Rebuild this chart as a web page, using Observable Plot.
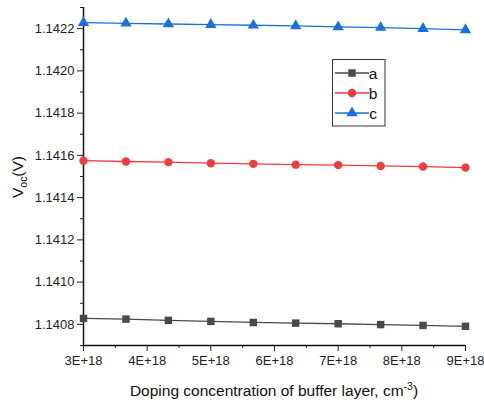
<!DOCTYPE html>
<html><head><meta charset="utf-8">
<script src="https://cdn.jsdelivr.net/npm/d3@7"></script>
<script src="https://cdn.jsdelivr.net/npm/@observablehq/plot@0.6"></script>
<style>body{margin:0;background:#fff;font-family:"Liberation Sans",Arial,sans-serif}#c{position:relative;width:484px;height:402px}</style>
</head><body><div id="c"></div>
<script>
const doping = [3.0e18, 3.667e18, 4.333e18, 5.0e18, 5.667e18, 6.333e18, 7.0e18, 7.667e18, 8.333e18, 9.0e18];
const seriesA = [1.140828, 1.140825, 1.140819, 1.140814, 1.140809, 1.140806, 1.140803, 1.140799, 1.140795, 1.140791];
const seriesB = [1.141575, 1.141571, 1.141568, 1.141563, 1.141560, 1.141556, 1.141554, 1.141550, 1.141547, 1.141542];
const seriesC = [1.142228, 1.142225, 1.142222, 1.142219, 1.142216, 1.142213, 1.142208, 1.142205, 1.142200, 1.142194];
const seriesNames = ["a", "b", "c"];
const seriesColors = ["#4a4a4a", "#f03c3c", "#1c6fe0"];
const seriesSymbols = ["square", "circle", "triangle"];
const xTicks = [3e18, 4e18, 5e18, 6e18, 7e18, 8e18, 9e18];
const xMinor = [3.5e18, 4.5e18, 5.5e18, 6.5e18, 7.5e18, 8.5e18];
const yTicks = [1.1408, 1.1410, 1.1412, 1.1414, 1.1416, 1.1418, 1.1420, 1.1422];
const yMinor = [1.1407, 1.1409, 1.1411, 1.1413, 1.1415, 1.1417, 1.1419, 1.1421, 1.1423];

const allSeries = [seriesA, seriesB, seriesC];
const data = [];
allSeries.forEach((s, i) => s.forEach((v, j) => data.push({x: doping[j], y: v, s: seriesNames[i]})));

const color = {domain: seriesNames, range: seriesColors};
const chart = Plot.plot({
  width: 484, height: 402,
  marginLeft: 83, marginRight: 19, marginTop: 7, marginBottom: 57,
  style: "font-family: 'Liberation Sans', Arial, sans-serif; font-size: 13px; color: #222;",
  x: {domain: [3e18, 9e18]},
  y: {domain: [1.1407, 1.1423]},
  color,
  symbol: {domain: seriesNames, range: seriesSymbols},
  marks: [
    Plot.axisX({ticks: xTicks, tickFormat: d => (d / 1e18) + "E+18", tickSize: 6, tickPadding: 4, label: null, stroke: "#222", fill: "#222", fontSize: 13}),
    Plot.axisX({ticks: xMinor, text: null, tickSize: 3, label: null, stroke: "#222"}),
    Plot.axisY({ticks: yTicks, tickFormat: d => d.toFixed(4), tickSize: 6, tickPadding: 3, label: null, stroke: "#222", fill: "#222", fontSize: 13}),
    Plot.axisY({ticks: yMinor, text: null, tickSize: 3, label: null, stroke: "#222"}),
    Plot.ruleX([3e18], {stroke: "#111", strokeWidth: 1.5}),
    Plot.ruleY([1.1407], {stroke: "#111", strokeWidth: 1.5}),
    Plot.line(data, {x: "x", y: "y", z: "s", stroke: "s", strokeWidth: 1.3}),
    Plot.dot(data, {x: "x", y: "y", symbol: "s", fill: "s", r: 4.2, stroke: null})
  ]
});
document.getElementById("c").appendChild(chart);

const svg = d3.select(chart);
svg.selectAll("g[aria-label='x-axis tick label'], g[aria-label='y-axis tick label']").attr("font-size", 13);
// y label
const yl = svg.append("text").attr("transform", "translate(23,177) rotate(-90)")
  .attr("text-anchor", "middle").attr("font-size", 15.5).attr("fill", "#111")
  .attr("font-family", "Liberation Sans, Arial, sans-serif");
yl.append("tspan").text("V");
yl.append("tspan").attr("font-size", 10.5).attr("dy", 4).text("oc");
yl.append("tspan").attr("dy", -4).text("(V)");
// x label
const xl = svg.append("text").attr("x", 274).attr("y", 396)
  .attr("text-anchor", "middle").attr("font-size", 15.5).attr("fill", "#111")
  .attr("font-family", "Liberation Sans, Arial, sans-serif");
xl.append("tspan").text("Doping concentration of buffer layer, cm");
xl.append("tspan").attr("font-size", 10.5).attr("dy", -6).text("-3");
xl.append("tspan").attr("dy", 6).text(")");
// legend
const lg = svg.append("g");
lg.append("rect").attr("x", 332.5).attr("y", 59.5).attr("width", 52.5).attr("height", 66.5)
  .attr("fill", "#fff").attr("stroke", "#333").attr("stroke-width", 1);
const sym = {square: d3.symbolSquare, circle: d3.symbolCircle, triangle: d3.symbolTriangle};
seriesNames.forEach((n, i) => {
  const yy = 73 + i * 20;
  lg.append("line").attr("x1", 335).attr("x2", 369).attr("y1", yy).attr("y2", yy)
    .attr("stroke", seriesColors[i]).attr("stroke-width", 1.3);
  lg.append("path").attr("d", d3.symbol(sym[seriesSymbols[i]], Math.PI * 4.2 * 4.2)())
    .attr("transform", `translate(352,${yy})`).attr("fill", seriesColors[i]);
  lg.append("text").attr("x", 373).attr("y", yy + 5.5).attr("font-size", 15.5).attr("fill", "#111")
    .attr("font-family", "Liberation Sans, Arial, sans-serif").text(n);
});
</script></body></html>
